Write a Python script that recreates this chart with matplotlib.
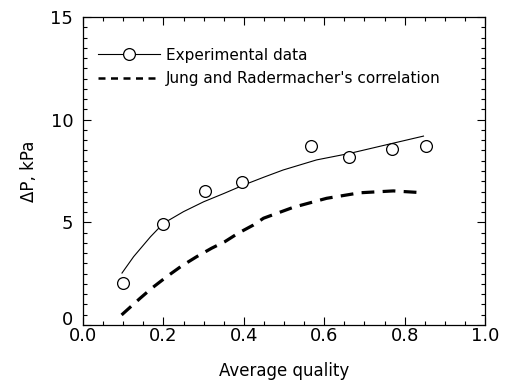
import matplotlib
matplotlib.use("Agg")
import matplotlib.pyplot as plt
import matplotlib.transforms as mtransforms
from matplotlib.ticker import MultipleLocator

# Experimental data (open circles)
exp_x = [0.10, 0.20, 0.303, 0.395, 0.566, 0.661, 0.769, 0.853]
exp_y = [2.04, 4.94, 6.55, 6.97, 8.70, 8.16, 8.56, 8.73]

# Fitted curve through experimental data (thin solid line)
fit_x = [0.097, 0.126, 0.168, 0.20, 0.25, 0.30, 0.351, 0.40, 0.45, 0.498, 0.581, 0.664, 0.764, 0.847]
fit_y = [2.53, 3.33, 4.30, 4.95, 5.52, 6.00, 6.41, 6.82, 7.20, 7.55, 8.04, 8.36, 8.82, 9.20]

# Jung and Radermacher's correlation (thick dashed line)
corr_x = [0.096, 0.142, 0.171, 0.208, 0.245, 0.283, 0.32, 0.353, 0.386, 0.424, 0.449, 0.523, 0.606, 0.689, 0.772, 0.847]
corr_y = [0.49, 1.30, 1.79, 2.35, 2.87, 3.33, 3.74, 4.06, 4.47, 4.87, 5.20, 5.73, 6.17, 6.44, 6.53, 6.44]

xticks = [0.0, 0.2, 0.4, 0.6, 0.8, 1.0]
yticks = [0, 5, 10, 15]

plt.rcParams['font.family'] = ['DejaVu Sans']

fig = plt.figure(figsize=(5.11, 3.82), dpi=100)
ax = fig.add_axes([83/511, 1 - 325/382, (485-83)/511, (325-17)/382])

ax.plot(fit_x, fit_y, color='black', lw=0.8)
ax.plot(exp_x, exp_y, 'o', mfc='white', mec='black', ms=8.5, mew=0.9)
ax.plot(corr_x, corr_y, color='black', lw=2.3, dashes=(4, 2.6))

# legend proxies
h1, = ax.plot([], [], color='black', lw=0.8, marker='o', mfc='white', mec='black', ms=8.5, mew=0.9)
h2, = ax.plot([], [], color='black', lw=1.8, dashes=(2.8, 2.2))
ax.legend([h1, h2], ['Experimental data', "Jung and Radermacher's correlation"],
          loc='upper left', bbox_to_anchor=(0.01, 0.935), frameon=False, fontsize=11,
          handlelength=4.1, handletextpad=0.35, labelspacing=0.55, borderaxespad=0.3,
          markerscale=1.0)

ax.set_xlim(0, 1.0)
ax.set_ylim(0, 15)
ax.set_xticks(xticks)
ax.set_yticks(yticks)
ax.set_xticklabels(['0.0', '0.2', '0.4', '0.6', '0.8', '1.0'])
ax.set_yticklabels(['0', '5', '10', '15'])
ax.xaxis.set_minor_locator(MultipleLocator(0.05))
ax.yaxis.set_minor_locator(MultipleLocator(0.5))
ax.tick_params(which='both', direction='in', top=True, right=True, labelsize=13, width=0.8)
ax.tick_params(which='major', length=6)
ax.tick_params(which='minor', length=3)
ax.tick_params(axis='x', pad=1.5)
ax.tick_params(axis='y', pad=7)
for s in ax.spines.values():
    s.set_linewidth(0.9)

# raise the "0" y label slightly so it clears the "0.0" x label
zero_lbl = ax.get_yticklabels()[0]
zero_lbl.set_transform(zero_lbl.get_transform() +
                       mtransforms.ScaledTranslation(0, 5/72, fig.dpi_scale_trans))

ax.set_xlabel('Average quality', fontsize=12, labelpad=12)
ax.set_ylabel('ΔP, kPa', fontsize=12, labelpad=9)

fig.savefig('out.png', dpi=100)
